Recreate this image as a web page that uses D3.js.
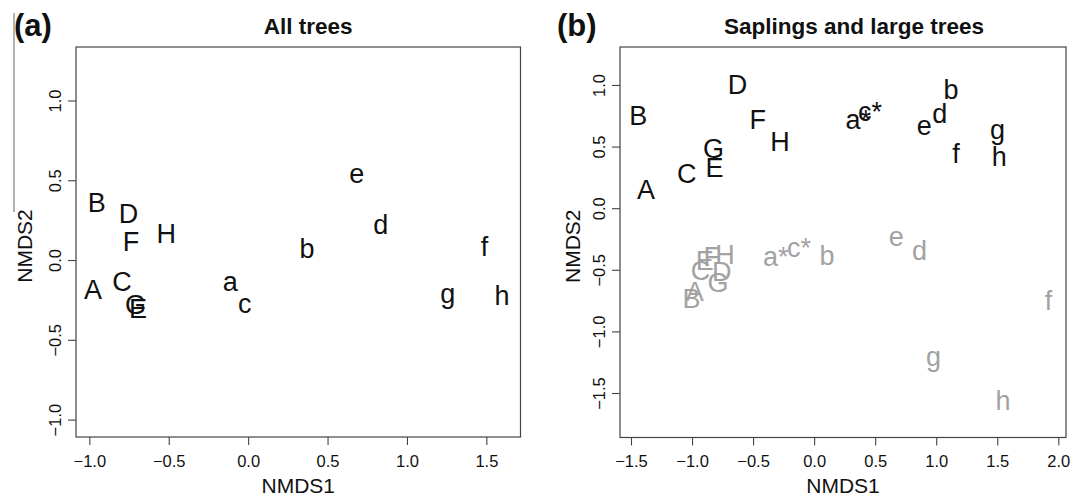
<!DOCTYPE html>
<html>
<head>
<meta charset="utf-8">
<script src="https://cdn.jsdelivr.net/npm/d3@7"></script>
<style>
  html, body { margin: 0; padding: 0; background: #fff; }
  svg { display: block; font-family: "Liberation Sans", Arial, Helvetica, sans-serif; }
</style>
</head>
<body>
<svg id="chart" width="1072" height="497"></svg>
<script>
// ---------- DATA ----------
const panelLetters = ["(a)", "(b)"];
const panelTitles = ["All trees", "Saplings and large trees"];
const xAxisTitle = "NMDS1";
const yAxisTitle = "NMDS2";

// Panel (a): all trees
const labelsA = ["A","B","C","D","E","F","G","H","a","b","c","d","e","f","g","h"];
const xA = [-0.977,-0.954,-0.795,-0.753,-0.693,-0.738,-0.710,-0.516,-0.113,0.370,-0.022,0.835,0.684,1.489,1.257,1.599];
const yA = [-0.185,0.359,-0.138,0.291,-0.305,0.113,-0.284,0.165,-0.138,0.071,-0.273,0.217,0.537,0.081,-0.211,-0.227];
const xTicksA = [-1.0,-0.5,0.0,0.5,1.0,1.5];
const yTicksA = [-1.0,-0.5,0.0,0.5,1.0];

// Panel (b): saplings (grey) and large trees (black)
const labelsB = ["A","B","C","D","E","F","G","H","a*","b","c*","d","e","f","g","h"];
const xBlack = [-1.377,-1.441,-1.043,-0.627,-0.815,-0.462,-0.825,-0.279,0.361,1.121,0.458,1.030,0.903,1.163,1.503,1.517];
const yBlack = [0.144,0.752,0.279,0.996,0.328,0.712,0.482,0.541,0.712,0.955,0.779,0.766,0.663,0.441,0.631,0.414];
const xGrey = [-0.977,-1.004,-0.930,-0.757,-0.895,-0.838,-0.787,-0.730,-0.315,0.105,-0.124,0.864,0.673,1.919,0.978,1.547];
const yGrey = [-0.683,-0.736,-0.507,-0.515,-0.425,-0.400,-0.610,-0.379,-0.399,-0.385,-0.322,-0.351,-0.235,-0.755,-1.209,-1.561];
const xTicksB = [-1.5,-1.0,-0.5,0.0,0.5,1.0,1.5,2.0];
const yTicksB = [-1.5,-1.0,-0.5,0.0,0.5,1.0];

// ---------- LAYOUT ----------
const svg = d3.select("#chart");
const fmt = d3.format(".1f");

const panels = [
  { box: {l: 76, r: 520.5, t: 47, b: 437}, xdom: [-1.084, 1.715], ydom: [-1.109, 1.335],
    xticks: xTicksA, yticks: yTicksA, letterX: 14, ylabX: 32, titleShift: 10,
    series: [{labels: labelsA, x: xA, y: yA, color: "#111"}] },
  { box: {l: 620, r: 1066, t: 47, b: 437.5}, xdom: [-1.590, 2.063], ydom: [-1.861, 1.308],
    xticks: xTicksB, yticks: yTicksB, letterX: 557, ylabX: 580, titleShift: 11,
    series: [{labels: labelsB, x: xGrey, y: yGrey, color: "#a2a2a2"},
             {labels: labelsB, x: xBlack, y: yBlack, color: "#111"}] }
];

panels.forEach((p, i) => {
  const b = p.box;
  const x = d3.scaleLinear().domain(p.xdom).range([b.l, b.r]);
  const y = d3.scaleLinear().domain(p.ydom).range([b.b, b.t]);
  const g = svg.append("g");

  // axes
  const xa = g.append("g").attr("transform", `translate(0,${b.b})`)
    .call(d3.axisBottom(x).tickValues(p.xticks).tickSize(8).tickFormat(fmt));
  xa.select(".domain").remove();
  xa.selectAll(".tick line").attr("stroke", "#444").attr("stroke-width", 1.1);
  xa.selectAll(".tick text").attr("y", 18).attr("font-size", 16.5)
    .attr("font-family", "Liberation Sans, Arial, sans-serif").attr("fill", "#111");

  const ya = g.append("g").attr("transform", `translate(${b.l},0)`)
    .call(d3.axisLeft(y).tickValues(p.yticks).tickSize(8).tickFormat(fmt));
  ya.select(".domain").remove();
  ya.selectAll(".tick line").attr("stroke", "#444").attr("stroke-width", 1.1);
  ya.selectAll(".tick text").attr("x", 0).attr("dy", 0)
    .attr("transform", "translate(-15,0) rotate(-90)")
    .attr("text-anchor", "middle").attr("font-size", 16.5)
    .attr("font-family", "Liberation Sans, Arial, sans-serif").attr("fill", "#111");

  // box
  g.append("rect").attr("x", b.l).attr("y", b.t)
    .attr("width", b.r - b.l).attr("height", b.b - b.t)
    .attr("fill", "none").attr("stroke", "#444").attr("stroke-width", 1.2);

  // points as text labels
  p.series.forEach(s => {
    g.append("g").selectAll("text").data(s.labels).join("text")
      .attr("x", (d, j) => x(s.x[j]))
      .attr("y", (d, j) => y(s.y[j]))
      .attr("text-anchor", "middle")
      .attr("dominant-baseline", "central")
      .attr("font-size", 27)
      .attr("fill", s.color)
      .text(d => d);
  });

  // titles
  g.append("text").attr("x", (b.l + b.r) / 2 + p.titleShift).attr("y", 33.5)
    .attr("text-anchor", "middle").attr("font-size", 22.5).attr("font-weight", "bold")
    .attr("fill", "#111").text(panelTitles[i]);
  g.append("text").attr("x", p.letterX).attr("y", 36)
    .attr("font-size", 31).attr("font-weight", "bold").attr("fill", "#111")
    .text(panelLetters[i]);
  g.append("text").attr("x", (b.l + b.r) / 2).attr("y", 493)
    .attr("text-anchor", "middle").attr("font-size", 21).attr("fill", "#111")
    .text(xAxisTitle);
  g.append("text").attr("transform", `translate(${p.ylabX},${(b.t + b.b) / 2 + 4}) rotate(-90)`)
    .attr("text-anchor", "middle").attr("font-size", 21).attr("fill", "#111")
    .text(yAxisTitle);
});

// thin vertical rule at far left of panel (a)
svg.append("line").attr("x1", 14).attr("x2", 14).attr("y1", 13).attr("y2", 212)
  .attr("stroke", "#666").attr("stroke-width", 1);
</script>
</body>
</html>
